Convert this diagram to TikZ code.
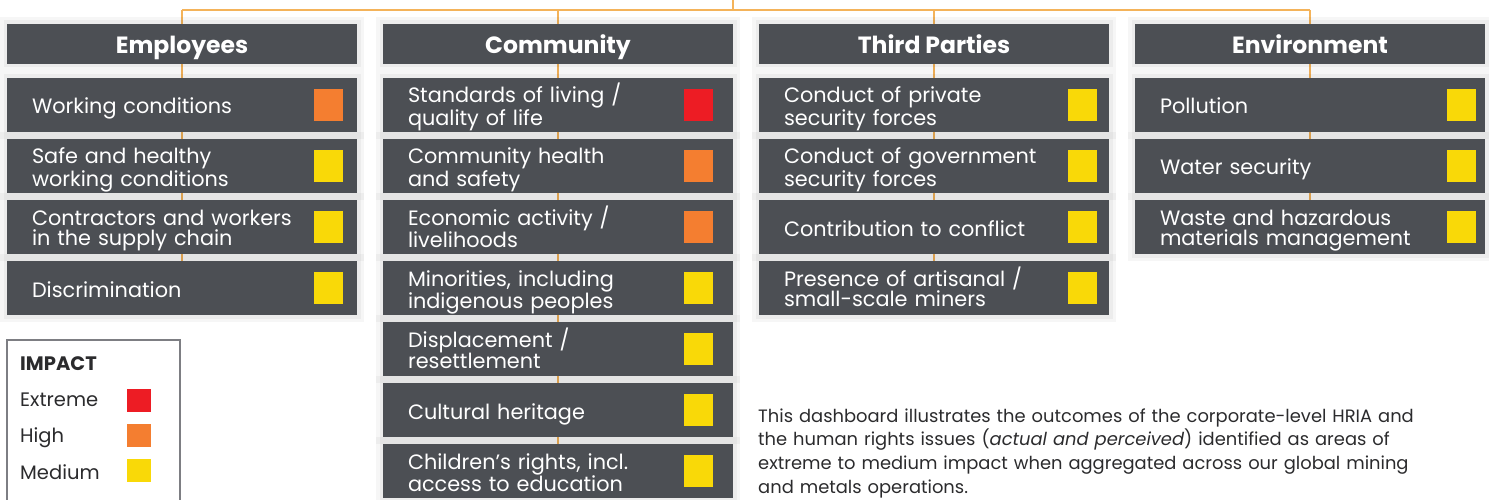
\documentclass[tikz,border=0pt]{standalone}
\usepackage{fontspec}
\setmainfont{Poppins}
\usetikzlibrary{positioning,backgrounds}
\definecolor{cardgray}{HTML}{4C4F54}
\definecolor{linkorange}{HTML}{F4B35A}
\definecolor{extreme}{HTML}{ED1C24}
\definecolor{high}{HTML}{F47E30}
\definecolor{medium}{HTML}{F9D908}
\definecolor{framegray}{HTML}{7D7E83}
\definecolor{inkgray}{HTML}{2B2B2D}
\tikzset{
  haze/.style={preaction={draw=black, draw opacity=0.035, line width=14pt},
    preaction={draw=black, draw opacity=0.04, line width=7pt}},
  head/.style={haze, fill=cardgray, text=white, minimum width=350pt, minimum height=40pt,
    inner sep=0pt, text height=20pt, text depth=0pt,
    font=\fontsize{23.5}{23.5}\selectfont\bfseries},
  issue/.style={haze, fill=cardgray, text=white, minimum width=350pt, minimum height=54pt,
    text width=300pt, inner xsep=25pt, inner ysep=0pt, align=left,
    font=\fontsize{20.8}{20.5}\selectfont, text height=18pt, text depth=0pt},
  twoline/.style={text height=10pt, text depth=14pt},
  ratebox/.style={minimum width=29pt, minimum height=32pt, inner sep=0pt},
  keybox/.style={minimum width=24pt, minimum height=23pt, inner sep=0pt},
  keytext/.style={anchor=base west, inner sep=0pt, text=inkgray, font=\fontsize{19.5}{19.5}\selectfont},
  link/.style={linkorange, line width=2.5pt}
}
\begin{document}
\begin{tikzpicture}[x=1pt,y=-1pt]
  \useasboundingbox (0,0) rectangle (1489,500);

  %%%%% HEADERS %%%%%
  \node[head] (emp) at (182,44) {Employees};
  \node[head] (com) at (558,44) {Community};
  \node[head] (tp)  at (934,44) {Third Parties};
  \node[head] (env) at (1310,44) {Environment};

  %%%%% EMPLOYEES %%%%%
  \node[issue] (emp1) at (182,105) {Working conditions};
  \node[issue, twoline] (emp2) at (182,166) {Safe and healthy\\working conditions};
  \node[issue, twoline] (emp3) at (182,227) {Contractors and workers\\in the supply chain};
  \node[issue] (emp4) at (182,288) {Discrimination};
  \node[ratebox, fill=high,   left=14pt of emp1.east] (emp1r) {};
  \node[ratebox, fill=medium, left=14pt of emp2.east] (emp2r) {};
  \node[ratebox, fill=medium, left=14pt of emp3.east] (emp3r) {};
  \node[ratebox, fill=medium, left=14pt of emp4.east] (emp4r) {};

  %%%%% COMMUNITY %%%%%
  \node[issue, twoline] (com1) at (558,105) {Standards of living /\\quality of life};
  \node[issue, twoline] (com2) at (558,166) {Community health\\and safety};
  \node[issue, twoline] (com3) at (558,227) {Economic activity /\\livelihoods};
  \node[issue, twoline] (com4) at (558,288) {Minorities, including\\indigenous peoples};
  \node[issue, twoline] (com5) at (558,349) {Displacement /\\resettlement};
  \node[issue] (com6) at (558,410) {Cultural heritage};
  \node[issue, twoline] (com7) at (558,471) {Children’s rights, incl.\\access to education};
  \node[ratebox, fill=extreme, left=20pt of com1.east] (com1r) {};
  \node[ratebox, fill=high,    left=20pt of com2.east] (com2r) {};
  \node[ratebox, fill=high,    left=20pt of com3.east] (com3r) {};
  \node[ratebox, fill=medium,  left=20pt of com4.east] (com4r) {};
  \node[ratebox, fill=medium,  left=20pt of com5.east] (com5r) {};
  \node[ratebox, fill=medium,  left=20pt of com6.east] (com6r) {};
  \node[ratebox, fill=medium,  left=20pt of com7.east] (com7r) {};

  %%%%% THIRD PARTIES %%%%%
  \node[issue, twoline] (tp1) at (934,105) {Conduct of private\\security forces};
  \node[issue, twoline] (tp2) at (934,166) {Conduct of government\\security forces};
  \node[issue] (tp3) at (934,227) {Contribution to conflict};
  \node[issue, twoline] (tp4) at (934,288) {Presence of artisanal /\\small-scale miners};
  \node[ratebox, fill=medium, left=12pt of tp1.east] (tp1r) {};
  \node[ratebox, fill=medium, left=12pt of tp2.east] (tp2r) {};
  \node[ratebox, fill=medium, left=12pt of tp3.east] (tp3r) {};
  \node[ratebox, fill=medium, left=12pt of tp4.east] (tp4r) {};

  %%%%% ENVIRONMENT %%%%%
  \node[issue] (env1) at (1310,105) {Pollution};
  \node[issue] (env2) at (1310,166) {Water security};
  \node[issue, twoline] (env3) at (1310,227) {Waste and hazardous\\materials management};
  \node[ratebox, fill=medium, left=9pt of env1.east] (env1r) {};
  \node[ratebox, fill=medium, left=9pt of env2.east] (env2r) {};
  \node[ratebox, fill=medium, left=9pt of env3.east] (env3r) {};

  %%%%% TREE LINES %%%%%
  \coordinate (top) at (733,-2);
  \coordinate (bar) at (733,10);
  \begin{scope}[on background layer]
    \draw[link] (top) -- (bar);
    \draw[link] (emp.north |- bar) -- (env.north |- bar);
    \draw[link] (emp.north |- bar) -- (emp4.south);
    \draw[link] (com.north |- bar) -- (com7.south);
    \draw[link] (tp.north |- bar) -- (tp4.south);
    \draw[link] (env.north |- bar) -- (env3.south);
  \end{scope}

  %%%%% LEGEND %%%%%
  \draw[framegray, line width=1.3pt] (7,510) -- (7,340) -- (180,340) -- (180,510);
  \node[keytext, font=\fontsize{19.5}{19.5}\selectfont\bfseries] (impact) at (20,370.7) {IMPACT};
  \node[keytext] (lext)  at (20,406.7) {Extreme};
  \node[keytext] (lhigh) at (20,442.7) {High};
  \node[keytext] (lmed)  at (20,479.3) {Medium};
  \node[keybox, fill=extreme] (kext)  at (139,400.5) {};
  \node[keybox, fill=high]    (khigh) at (139,435.5) {};
  \node[keybox, fill=medium]  (kmed)  at (139,470.5) {};

  %%%%% NOTE %%%%%
  \node[anchor=base west, text width=720pt, inner sep=0pt, align=left, text=inkgray,
    font=\fontsize{17.9}{23.8}\selectfont] (note) at (758,422)
    {This dashboard illustrates the outcomes of the corporate-level HRIA and\\
     the human rights issues (\textit{actual and perceived}) identified as areas of\\
     extreme to medium impact when aggregated across our global mining\\
     and metals operations.};
\end{tikzpicture}
\end{document}
